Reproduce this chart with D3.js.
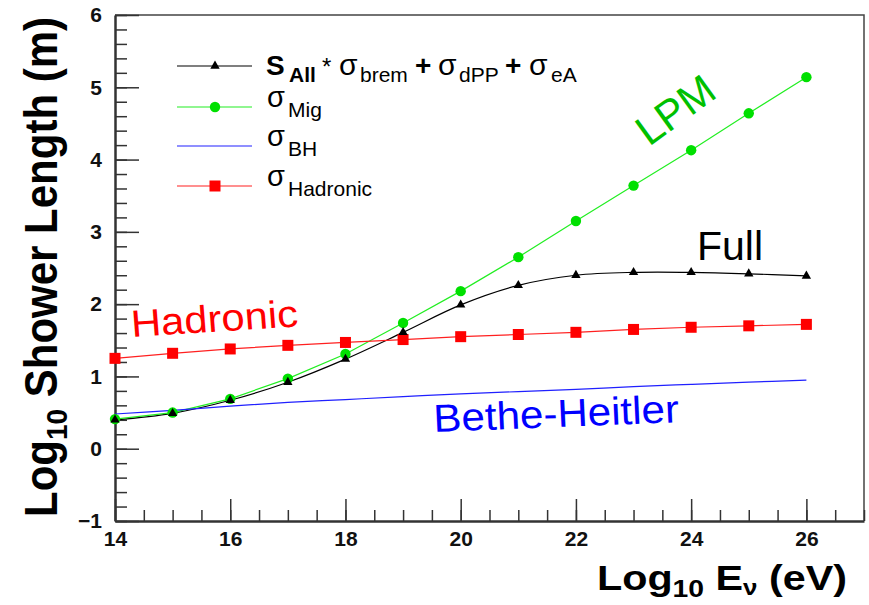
<!DOCTYPE html>
<html>
<head>
<meta charset="utf-8">
<script src="https://cdn.jsdelivr.net/npm/d3@7"></script>
<style>
body { margin: 0; background: #fff; }
svg { display: block; }
text { font-family: "Liberation Sans", Arial, Helvetica, sans-serif; }
</style>
</head>
<body>
<div class="box"></div>
<script>
// donnees
const logE = [14, 15, 16, 17, 18, 19, 20, 21, 22, 23, 24, 25, 26];
const full = [0.40, 0.49, 0.67, 0.92, 1.24, 1.61, 1.99, 2.26, 2.40, 2.44, 2.44, 2.42, 2.39];
const mig = [0.41, 0.50, 0.69, 0.97, 1.31, 1.74, 2.18, 2.65, 3.15, 3.64, 4.13, 4.64, 5.14];
const bh = [0.48, 0.53, 0.59, 0.64, 0.68, 0.72, 0.76, 0.79, 0.82, 0.86, 0.89, 0.92, 0.95];
const hadronic = [1.25, 1.32, 1.38, 1.43, 1.47, 1.51, 1.55, 1.58, 1.61, 1.65, 1.68, 1.70, 1.72];

const xTicks = [14, 16, 18, 20, 22, 24, 26];
const yTicks = [-1, 0, 1, 2, 3, 4, 5, 6];

const dims = {width: 869, height: 605};
const plot = {left: 115, right: 864, top: 15, bottom: 521};

const svg = d3.select('.box')
              .append('svg')
              .attr('width', dims.width)
              .attr('height', dims.height);

const x = d3.scaleLinear().domain([14, 27]).range([plot.left, plot.right]);
const y = d3.scaleLinear().domain([-1, 6]).range([plot.bottom, plot.top]);

// cadre haut / droite
svg.append('path')
   .attr('d', `M${plot.left},${plot.top}H${plot.right}V${plot.bottom}`)
   .attr('fill', 'none')
   .attr('stroke', '#444')
   .attr('stroke-width', 1.5);

// axe y : graduations secondaires puis principales
svg.append('g')
   .attr('transform', `translate(${plot.left},0)`)
   .call(d3.axisLeft(y).tickValues(d3.range(-1, 6.01, 0.2)).tickSize(-12).tickSizeOuter(0).tickFormat(''))
   .call(g => g.select('.domain').remove())
   .selectAll('line').attr('stroke', '#333').attr('stroke-width', 1.5);

const yAxis = svg.append('g')
   .attr('transform', `translate(${plot.left},0)`)
   .call(d3.axisLeft(y).tickValues(yTicks).tickSize(-24).tickSizeOuter(0).tickPadding(13).tickFormat(d3.format('d')));
yAxis.select('.domain').attr('stroke', '#333').attr('stroke-width', 2.5);
yAxis.selectAll('line').attr('stroke', '#333').attr('stroke-width', 1.5);
yAxis.selectAll('text')
     .attr('font-size', 21).attr('font-weight', 'bold').attr('fill', '#111')
     .attr('font-family', '"Liberation Sans", Arial, sans-serif')
     .text(d => d < 0 ? '\u2212' + Math.abs(d) : d);

// axe x
svg.append('g')
   .attr('transform', `translate(0,${plot.bottom})`)
   .call(d3.axisBottom(x).tickValues(d3.range(14, 27.01, 0.5)).tickSize(-11).tickSizeOuter(0).tickFormat(''))
   .call(g => g.select('.domain').remove())
   .selectAll('line').attr('stroke', '#333').attr('stroke-width', 1.5);

const xAxis = svg.append('g')
   .attr('transform', `translate(0,${plot.bottom})`)
   .call(d3.axisBottom(x).tickValues(xTicks).tickSize(-22).tickSizeOuter(0).tickPadding(10).tickFormat(d3.format('d')));
xAxis.select('.domain').attr('stroke', '#333').attr('stroke-width', 2.5);
xAxis.selectAll('line').attr('stroke', '#333').attr('stroke-width', 1.5);
xAxis.selectAll('text')
     .attr('font-size', 21).attr('font-weight', 'bold').attr('fill', '#111')
     .attr('font-family', '"Liberation Sans", Arial, sans-serif');

// courbes
const series = [
  {name: 'full', values: full, color: '#000', curve: d3.curveCatmullRom, marker: 'tri'},
  {name: 'mig', values: mig, color: '#22ee22', curve: d3.curveLinear, marker: 'circle'},
  {name: 'bh', values: bh, color: '#2020ff', curve: d3.curveCatmullRom, marker: null},
  {name: 'hadronic', values: hadronic, color: '#ff2020', curve: d3.curveLinear, marker: 'square'}
];

const markerFill = {tri: '#000', circle: '#00e000', square: '#ff0000'};
const symbolOf = {
  tri: d3.symbol().type(d3.symbolTriangle).size(38),
  circle: d3.symbol().type(d3.symbolCircle).size(85),
  square: d3.symbol().type(d3.symbolSquare).size(121)
};

const graph = svg.append('g');

series.forEach(s => {
  const line = d3.line()
                 .x((d, i) => x(logE[i]))
                 .y(d => y(d))
                 .curve(s.curve);
  graph.append('path')
       .attr('d', line(s.values))
       .attr('fill', 'none')
       .attr('stroke', s.color)
       .attr('stroke-width', 1.2);
});

// marqueurs par dessus
[series[3], series[1], series[0]].forEach(s => {
  graph.selectAll(null)
       .data(s.values)
       .enter()
       .append('path')
       .attr('transform', (d, i) => `translate(${x(logE[i])},${y(d)})`)
       .attr('d', symbolOf[s.marker])
       .attr('fill', markerFill[s.marker]);
});

// legende
const legend = svg.append('g');
const rows = [
  {s: series[0], y: 66},
  {s: series[1], y: 107},
  {s: series[2], y: 146},
  {s: series[3], y: 186}
];
rows.forEach(r => {
  legend.append('line')
        .attr('x1', 177).attr('x2', 252)
        .attr('y1', r.y).attr('y2', r.y)
        .attr('stroke', r.s.color).attr('stroke-width', 1.2);
  if (r.s.marker) {
    legend.append('path')
          .attr('transform', `translate(215,${r.y})`)
          .attr('d', symbolOf[r.s.marker])
          .attr('fill', markerFill[r.s.marker]);
  }
});

// premiere ligne : morceaux places un par un
const pieces = [
  {t: 'S', x: 266, size: 28, bold: true, sub: false},
  {t: 'All', x: 289, size: 21, bold: true, sub: true},
  {t: '*', x: 322, size: 24, bold: false, sub: false},
  {t: 'σ', x: 339, size: 30, bold: false, sub: false},
  {t: 'brem', x: 360, size: 21, bold: false, sub: true},
  {t: '+', x: 415, size: 28, bold: true, sub: false},
  {t: 'σ', x: 438, size: 30, bold: false, sub: false},
  {t: 'dPP', x: 459, size: 21, bold: false, sub: true},
  {t: '+', x: 505, size: 28, bold: true, sub: false},
  {t: 'σ', x: 529, size: 30, bold: false, sub: false},
  {t: 'eA', x: 551, size: 21, bold: false, sub: true}
];
const t1 = legend.append('text').attr('fill', '#000');
pieces.forEach(p => {
  t1.append('tspan')
    .attr('x', p.x)
    .attr('y', p.sub ? 82 : 75)
    .attr('font-size', p.size)
    .attr('font-weight', p.bold ? 'bold' : 'normal')
    .text(p.t);
});

const subs = ['Mig', 'BH', 'Hadronic'];
subs.forEach((lab, i) => {
  const r = rows[i + 1];
  const t = legend.append('text').attr('fill', '#000');
  t.append('tspan').attr('x', 267).attr('y', r.y).attr('font-size', 29).text('σ');
  t.append('tspan').attr('x', 288).attr('y', r.y + 10).attr('font-size', 21).text(lab);
});

// annotations
const note = (txt, px, py, size, color, angle, sx) => {
  svg.append('text')
     .attr('transform', `translate(${px},${py}) scale(${sx},1) rotate(${angle})`)
     .attr('font-size', size)
     .attr('fill', color)
     .text(txt);
};
note('Hadronic', 132, 337, 38, '#ff0000', -4, 1.1);
note('Bethe-Heitler', 434, 432, 39, '#0000ff', -2.5, 1.08);
note('Full', 697, 260, 41, '#000', 0, 1);
note('LPM', 649, 147, 42, '#00c000', -36, 1);

// titres des axes
const xt = svg.append('text')
   .attr('transform', 'translate(847,590) scale(1.18,1)')
   .attr('text-anchor', 'end')
   .attr('font-size', 35)
   .attr('font-weight', 'bold')
   .attr('fill', '#000');
xt.append('tspan').text('Log');
xt.append('tspan').attr('font-size', 24).attr('dy', 7).text('10');
xt.append('tspan').attr('dy', -7).text(' E');
xt.append('tspan').attr('font-size', 22).attr('dy', 5).text('ν');
xt.append('tspan').attr('dy', -5).text(' (eV)');

const yt = svg.append('text')
   .attr('transform', 'translate(57,517) scale(1.08,1) rotate(-90)')
   .attr('font-size', 42)
   .attr('font-weight', 'bold')
   .attr('fill', '#000');
yt.append('tspan').text('Log');
yt.append('tspan').attr('font-size', 28).attr('dy', 9).text('10');
yt.append('tspan').attr('dy', -9).text(' Shower Length (m)');
</script>
</body>
</html>
